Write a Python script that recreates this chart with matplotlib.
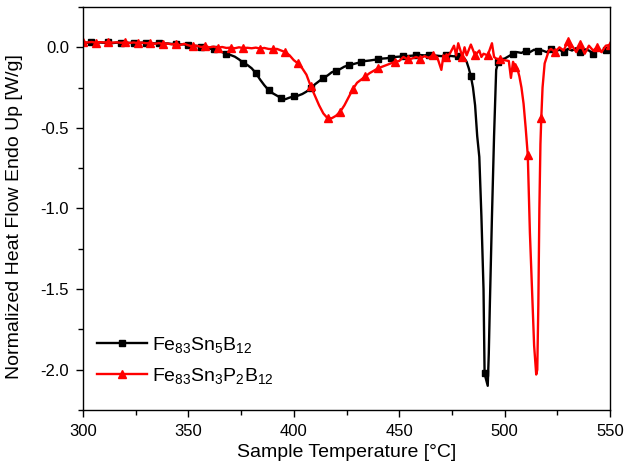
import numpy as np
import matplotlib
matplotlib.use("Agg")
import matplotlib.pyplot as plt
from matplotlib.ticker import MultipleLocator

plt.rcParams['font.family'] = ['Liberation Sans', 'DejaVu Sans']
plt.rcParams['mathtext.fontset'] = 'custom'
plt.rcParams['mathtext.rm'] = 'Liberation Sans'
plt.rcParams['mathtext.default'] = 'regular'

# Fe83Sn5B12 (black)
t_black = [300, 302, 304, 306, 308, 310, 312, 314, 316, 318, 320, 322, 324, 326, 328,
           330, 332, 334, 336, 338, 340, 342, 344, 346, 348, 350, 352, 354, 356, 358,
           360, 362, 364, 366, 368, 370, 372, 374, 376, 378, 380, 382, 384, 386, 388,
           390, 392, 394, 396, 398, 400, 402, 404, 406, 408, 410, 412, 414, 416, 418,
           420, 422, 424, 426, 428, 430, 432, 434, 436, 438, 440, 442, 444, 446, 448,
           450, 452, 454, 456, 458, 460, 462, 464, 466, 468, 470, 472, 474, 476, 478,
           480, 481, 482, 483, 484, 485, 486, 487, 488, 489, 490, 490.5, 491, 492,
           492.5, 493, 494, 495, 496, 497, 498, 500, 502, 504, 506, 508, 510, 512,
           514, 516, 518, 520, 522, 524, 526, 528, 530, 532, 534, 536, 538, 540, 542,
           544, 546, 548, 550]
hf_black = [0.030, 0.028, 0.030, 0.027, 0.030, 0.028, 0.030, 0.026, 0.029, 0.027,
            0.030, 0.027, 0.028, 0.026, 0.029, 0.025, 0.027, 0.024, 0.026, 0.023,
            0.024, 0.021, 0.022, 0.018, 0.018, 0.014, 0.012, 0.008, 0.004, -0.002,
            -0.008, -0.012, -0.020, -0.030, -0.040, -0.048, -0.058, -0.075, -0.095,
            -0.110, -0.130, -0.160, -0.200, -0.235, -0.265, -0.285, -0.300, -0.315,
            -0.322, -0.312, -0.305, -0.300, -0.290, -0.275, -0.255, -0.230, -0.210,
            -0.190, -0.175, -0.155, -0.145, -0.135, -0.120, -0.112, -0.105, -0.098,
            -0.092, -0.085, -0.082, -0.078, -0.075, -0.070, -0.068, -0.064, -0.060,
            -0.058, -0.055, -0.054, -0.052, -0.050, -0.048, -0.050, -0.047, -0.050,
            -0.052, -0.055, -0.050, -0.053, -0.056, -0.055, -0.060, -0.070, -0.090,
            -0.130, -0.180, -0.250, -0.360, -0.550, -0.680, -1.050, -1.500, -2.020,
            -2.050, -2.100, -1.900, -1.600, -1.050, -0.550, -0.140, -0.090, -0.075,
            -0.070, -0.055, -0.040, -0.030, -0.035, -0.020, -0.030, -0.015, -0.025,
            -0.020, -0.030, -0.012, -0.025, -0.015, -0.030, -0.010, -0.020, -0.005,
            -0.030, -0.012, -0.020, -0.040, -0.010, -0.025, -0.015, -0.030]

# Fe83Sn3P2B12 (red)
t_red = [300, 302, 304, 306, 308, 310, 312, 314, 316, 318, 320, 322, 324, 326, 328,
         330, 332, 334, 336, 338, 340, 342, 344, 346, 348, 350, 352, 354, 356, 358,
         360, 362, 364, 366, 368, 370, 372, 374, 376, 378, 380, 382, 384, 386, 388,
         390, 392, 394, 396, 398, 400, 402, 404, 406, 408, 410, 412, 414, 416, 418,
         420, 422, 424, 426, 428, 430, 432, 434, 436, 438, 440, 442, 444, 446, 448,
         450, 452, 454, 456, 458, 460, 462, 464, 466, 468, 470, 471, 472, 474, 476,
         477, 478, 480, 481, 482, 484, 486, 488, 489, 490, 492, 494, 495, 496, 498,
         500, 502, 503, 504, 505, 506, 507, 508, 509, 510, 511, 512, 513, 514, 515,
         515.5, 516, 516.5, 517, 517.4, 518, 519, 520, 521, 522, 524, 526, 528, 530,
         531, 532, 534, 536, 538, 540, 542, 544, 546, 548, 550]
hf_red = [0.032, 0.030, 0.033, 0.029, 0.032, 0.030, 0.033, 0.029, 0.031, 0.028,
          0.031, 0.027, 0.030, 0.026, 0.029, 0.025, 0.028, 0.022, 0.026, 0.020,
          0.024, 0.018, 0.020, 0.014, 0.022, 0.012, 0.006, 0.010, 0.002, 0.006,
          0.000, 0.004, -0.003, 0.002, -0.004, -0.002, -0.006, 0.000, -0.005, -0.003,
          -0.006, -0.002, -0.008, -0.004, -0.010, -0.012, -0.010, -0.020, -0.030,
          -0.050, -0.080, -0.100, -0.130, -0.170, -0.240, -0.300, -0.360, -0.410,
          -0.440, -0.440, -0.425, -0.400, -0.360, -0.310, -0.260, -0.220, -0.200,
          -0.180, -0.160, -0.145, -0.130, -0.120, -0.110, -0.100, -0.090, -0.085,
          -0.060, -0.075, -0.070, -0.060, -0.070, -0.055, -0.065, -0.050, -0.060,
          -0.140, -0.050, -0.060, -0.040, 0.010, -0.050, 0.025, -0.060, 0.000,
          -0.050, 0.017, -0.050, -0.020, -0.060, -0.040, -0.050, 0.025, -0.060,
          -0.070, -0.075, -0.080, -0.085, -0.190, -0.090, -0.120, -0.130, -0.180,
          -0.250, -0.350, -0.500, -0.670, -1.150, -1.500, -1.850, -2.030, -2.000,
          -1.600, -1.000, -0.600, -0.440, -0.250, -0.100, -0.060, -0.020, -0.010,
          -0.030, 0.000, -0.020, 0.037, -0.010, 0.010, -0.030, 0.020, -0.040, 0.010,
          -0.020, 0.000, -0.030, 0.010, 0.015]


def marker_idx(t, start, step=6.4):
    # markers at evenly spaced temperatures, like the instrument software
    t = np.asarray(t, dtype=float)
    grid = np.arange(start, t.max() + 0.1, step)
    return sorted(set(int(np.argmin(np.abs(t - g))) for g in grid))


fig = plt.figure(figsize=(6.25, 4.7), dpi=100)
ax = fig.add_axes([0.1328, 0.1277, 0.8432, 0.8574])

ax.plot(t_black, hf_black, color='black', lw=1.7, marker='s', ms=4.5,
        markevery=marker_idx(t_black, 304.9), label='Fe$_{83}$Sn$_5$B$_{12}$')
ax.plot(t_red, hf_red, color='red', lw=1.7, marker='^', ms=5.5,
        markevery=marker_idx(t_red, 300.0), label='Fe$_{83}$Sn$_3$P$_2$B$_{12}$')

ax.set_xlim(300, 550)
ax.set_ylim(-2.25, 0.25)
ax.xaxis.set_major_locator(MultipleLocator(50))
ax.xaxis.set_minor_locator(MultipleLocator(25))
ax.yaxis.set_major_locator(MultipleLocator(0.5))
ax.yaxis.set_minor_locator(MultipleLocator(0.25))
ax.yaxis.set_major_formatter(plt.FuncFormatter(lambda v, p: f"{v:.1f}"))
ax.tick_params(which='major', direction='out', length=5, width=1, labelsize=12, pad=5)
ax.tick_params(which='minor', direction='out', length=3.5, width=1)
for s in ax.spines.values():
    s.set_linewidth(1)

ax.set_xlabel('Sample Temperature [°C]', fontsize=14, labelpad=4)
ax.set_ylabel('Normalized Heat Flow Endo Up [W/g]', fontsize=14)
ax.yaxis.set_label_coords(-0.114, 0.48)

ax.legend(loc='lower left', bbox_to_anchor=(0.0, 0.025), frameon=False,
          fontsize=14, handlelength=2.6, handletextpad=0.25, numpoints=1,
          labelspacing=0.6, borderaxespad=0.3)

fig.savefig('out.png', dpi=100)
